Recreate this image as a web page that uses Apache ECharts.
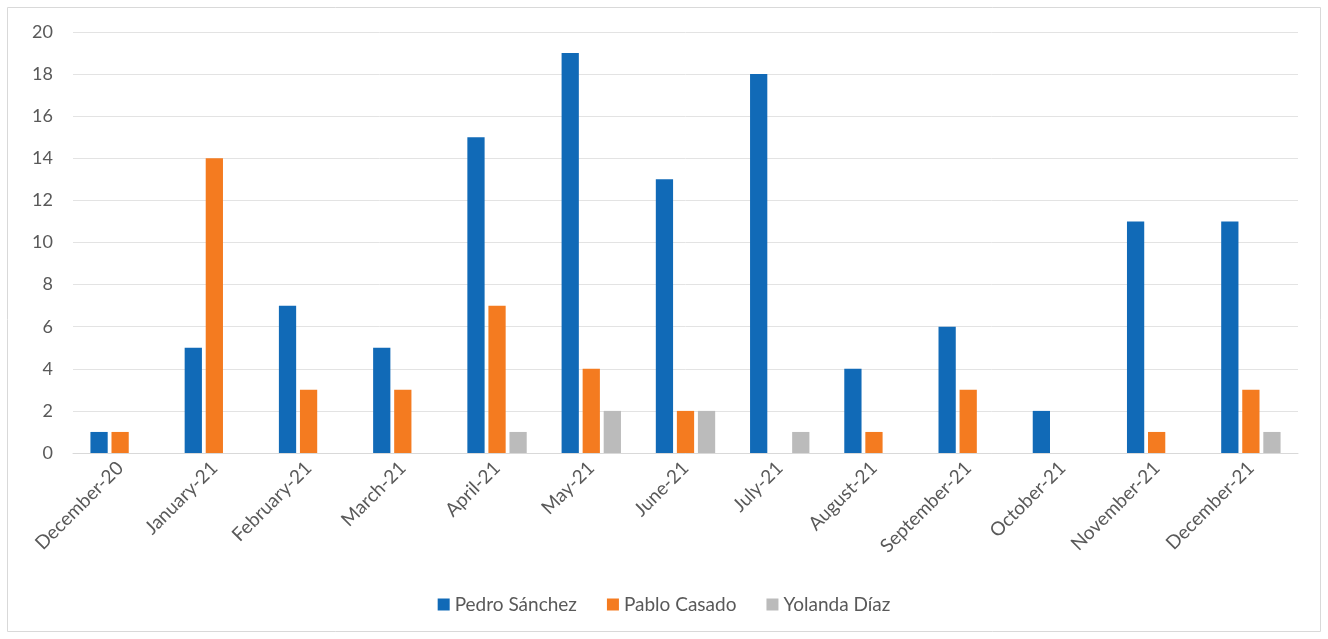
<!DOCTYPE html>
<html>
<head>
<meta charset="utf-8">
<script src="https://cdn.jsdelivr.net/npm/echarts@6/dist/echarts.min.js"></script>
<style>
  html, body { margin: 0; padding: 0; background: #fff; }
  #chart { width: 1328px; height: 639px; }
</style>
</head>
<body>
<div id="chart"></div>
<script>
// Monthly counts per politician
const months = ['December-20', 'January-21', 'February-21', 'March-21', 'April-21', 'May-21', 'June-21',
  'July-21', 'August-21', 'September-21', 'October-21', 'November-21', 'December-21'];
const pedroSanchez = [1, 5, 7, 5, 15, 19, 13, 18, 4, 6, 2, 11, 11];
const pabloCasado = [1, 14, 3, 3, 7, 4, 2, 0, 1, 3, 0, 1, 3];
const yolandaDiaz = [0, 0, 0, 0, 1, 2, 2, 1, 0, 0, 0, 0, 1];
const yTicks = { min: 0, max: 20, interval: 2 };

const font = 'Lato, "Open Sans", sans-serif';
const textColor = '#595959';

const chart = echarts.init(document.getElementById('chart'), null, { renderer: 'canvas' });

function barSeries(name, data, color) {
  return {
    name: name,
    type: 'bar',
    data: data,
    barGap: '22%',
    barCategoryGap: '37%',
    itemStyle: { color: color }
  };
}

chart.setOption({
  animation: false,
  textStyle: { fontFamily: font },
  graphic: [{
    type: 'rect',
    shape: { x: 7.5, y: 7.5, width: 1313, height: 624 },
    style: { fill: 'none', stroke: '#d9d9d9', lineWidth: 1 },
    silent: true
  }],
  grid: { left: 73, right: 30, top: 32, bottom: 186, containLabel: false },
  legend: {
    bottom: 20,
    left: 'center',
    itemWidth: 12,
    itemHeight: 12,
    itemGap: 30,
    icon: 'rect',
    textStyle: { color: textColor, fontSize: 19, fontFamily: font },
    data: ['Pedro Sánchez', 'Pablo Casado', 'Yolanda Díaz']
  },
  xAxis: {
    type: 'category',
    data: months,
    axisLine: { lineStyle: { color: '#d9d9d9', width: 1 } },
    axisTick: { show: false },
    axisLabel: { rotate: 45, color: textColor, fontSize: 19, fontFamily: font, interval: 0, margin: 12 }
  },
  yAxis: {
    type: 'value',
    min: yTicks.min,
    max: yTicks.max,
    interval: yTicks.interval,
    axisLine: { show: false },
    axisTick: { show: false },
    splitLine: { lineStyle: { color: '#e3e3e3', width: 1 } },
    axisLabel: { color: textColor, fontSize: 18, fontFamily: font, margin: 20 }
  },
  series: [
    barSeries('Pedro Sánchez', pedroSanchez, '#116AB7'),
    barSeries('Pablo Casado', pabloCasado, '#F47B20'),
    barSeries('Yolanda Díaz', yolandaDiaz, '#BBBBBB')
  ]
});
</script>
</body>
</html>
